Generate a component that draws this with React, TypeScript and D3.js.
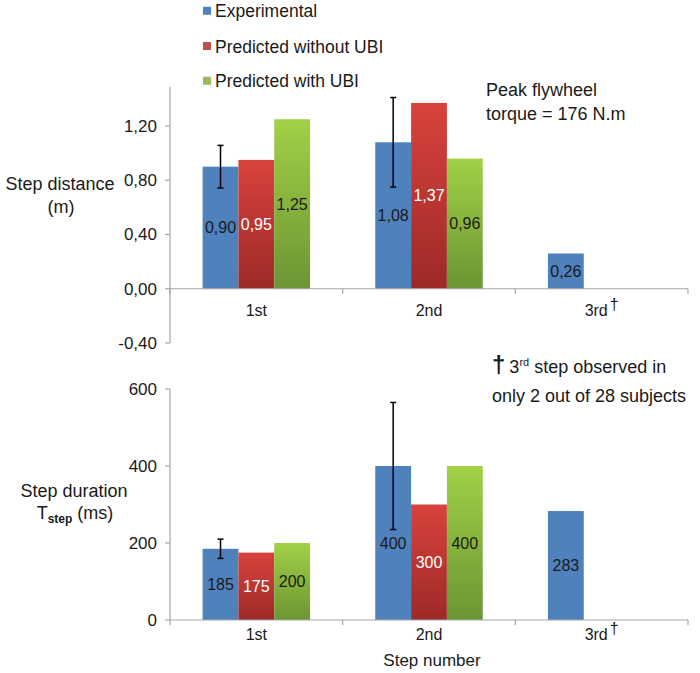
import React from "react";
import * as d3 from "d3";

const categories = ["1st", "2nd", "3rd"];
const seriesNames = ["Experimental", "Predicted without UBI", "Predicted with UBI"];

const distExperimental = [0.9, 1.08, 0.26];
const distNoUBI = [0.95, 1.37, null];
const distUBI = [1.25, 0.96, null];
const distErr = [0.157, 0.33, null];
const distTicks = [-0.4, 0, 0.4, 0.8, 1.2];

const durExperimental = [185, 400, 283];
const durNoUBI = [175, 300, null];
const durUBI = [200, 400, null];
const durErr = [25, 165, null];
const durTicks = [0, 200, 400, 600];

const FONT = "'Liberation Sans', Arial, Helvetica, sans-serif";
const AXIS = "#a6a6a6";
const TXT = "#1a1a1a";
const fills = ["#4f81bd", "url(#gRed)", "url(#gGreen)"];
const legendFills = ["#4f81bd", "#c0504d", "#9bbb59"];
const labelColors = [TXT, "#ffffff", TXT];

const x = d3.scaleBand<string>().domain(categories).range([170, 688]).padding(0);
const barW = x.bandwidth() * 0.2075;

type Panel = {
  y: d3.ScaleLinear<number, number>;
  series: (number | null)[][];
  err: (number | null)[];
  ticks: number[];
  fmt: (v: number) => string;
  axisTop: number;
  catY: number;
};

const commaFmt = (v: number) => d3.format(".2f")(v).replace(".", ",").replace("\u2212", "-");

const top: Panel = {
  y: d3.scaleLinear().domain([-0.4, 1.2]).range([343, 126]),
  series: [distExperimental, distNoUBI, distUBI],
  err: distErr,
  ticks: distTicks,
  fmt: commaFmt,
  axisTop: 87,
  catY: 316,
};

const bottom: Panel = {
  y: d3.scaleLinear().domain([0, 600]).range([620, 389]),
  series: [durExperimental, durNoUBI, durUBI],
  err: durErr,
  ticks: durTicks,
  fmt: (v: number) => d3.format("d")(v),
  axisTop: 389,
  catY: 640,
};

function PanelView({ p }: { p: Panel }) {
  const y0 = p.y(0);
  const x0 = x.range()[0];
  const x1 = x.range()[1];
  const boundaries = [...categories.map((c) => x(c)!), x1];
  return (
    <g>
      {/* y axis */}
      <line x1={x0} x2={x0} y1={p.axisTop} y2={p.y(p.ticks[0])} stroke={AXIS} strokeWidth={1.2} />
      {p.ticks.map((t) => (
        <g key={t}>
          <line x1={x0 - 5} x2={x0} y1={p.y(t)} y2={p.y(t)} stroke={AXIS} strokeWidth={1.2} />
          <text x={x0 - 13} y={p.y(t)} dy="0.35em" textAnchor="end" fontSize={17} fill={TXT}>
            {p.fmt(t)}
          </text>
        </g>
      ))}
      {/* bars */}
      {p.series.map((vals, si) =>
        vals.map((v, ci) => {
          if (v == null) return null;
          const cx = x(categories[ci])! + x.bandwidth() / 2;
          const bx = cx - 1.5 * barW + si * barW;
          const yt = p.y(v);
          return (
            <g key={`${si}-${ci}`}>
              <rect x={bx} y={yt} width={barW} height={y0 - yt} fill={fills[si]} />
              <text
                x={bx + barW / 2}
                y={(yt + y0) / 2}
                dy="0.35em"
                textAnchor="middle"
                fontSize={16}
                fill={labelColors[si]}
              >
                {p.fmt(v)}
              </text>
            </g>
          );
        })
      )}
      {/* error bars */}
      {p.err.map((e, ci) => {
        const v = p.series[0][ci];
        if (e == null || v == null) return null;
        const cx = x(categories[ci])! + x.bandwidth() / 2 - barW;
        return (
          <g key={`e${ci}`} stroke="#000" strokeWidth={1.5}>
            <line x1={cx} x2={cx} y1={p.y(v + e)} y2={p.y(v - e)} />
            <line x1={cx - 3} x2={cx + 3} y1={p.y(v + e)} y2={p.y(v + e)} />
            <line x1={cx - 3} x2={cx + 3} y1={p.y(v - e)} y2={p.y(v - e)} />
          </g>
        );
      })}
      {/* x axis */}
      <line x1={x0} x2={x1} y1={y0} y2={y0} stroke={AXIS} strokeWidth={1.2} />
      {boundaries.map((b, i) => (
        <line key={i} x1={b} x2={b} y1={y0} y2={y0 + 5} stroke={AXIS} strokeWidth={1.2} />
      ))}
      {categories.map((c) => (
        <text
          key={c}
          x={x(c)! + x.bandwidth() / 2}
          y={p.catY}
          textAnchor="middle"
          fontSize={16}
          fill={TXT}
        >
          {c}
          {c === "3rd" ? (
            <tspan dx={2} dy={-6} fontSize={16}>
              †
            </tspan>
          ) : null}
        </text>
      ))}
    </g>
  );
}

export default function App() {
  return (
    <svg
      width={700}
      height={673}
      style={{ position: "absolute", left: 0, top: 0, background: "#fff" }}
      fontFamily={FONT}
    >
      <defs>
        <linearGradient id="gRed" x1="0" y1="0" x2="0" y2="1">
          <stop offset="0" stopColor="#d9423d" />
          <stop offset="1" stopColor="#9c2a27" />
        </linearGradient>
        <linearGradient id="gGreen" x1="0" y1="0" x2="0" y2="1">
          <stop offset="0" stopColor="#a2d046" />
          <stop offset="1" stopColor="#6c9534" />
        </linearGradient>
      </defs>
      <rect width={700} height={673} fill="#fff" />

      <PanelView p={top} />
      <PanelView p={bottom} />

      {/* legend */}
      {seriesNames.map((n, i) => {
        const base = [17.3, 52.5, 87.3][i];
        return (
          <g key={n}>
            <rect x={203} y={base - 10.5} width={8} height={8} fill={legendFills[i]} />
            <text x={215} y={base} fontSize={17.5} fill={TXT}>
              {n}
            </text>
          </g>
        );
      })}

      {/* y titles */}
      <text x={60} y={184} dy="0.35em" textAnchor="middle" fontSize={18} fill={TXT}>
        Step distance
      </text>
      <text x={61} y={207} dy="0.35em" textAnchor="middle" fontSize={18} fill={TXT}>
        (m)
      </text>
      <text x={74} y={491} dy="0.35em" textAnchor="middle" fontSize={18} fill={TXT}>
        Step duration
      </text>
      <text x={75} y={519} textAnchor="middle" fontSize={18} fill={TXT}>
        T<tspan fontSize={12} dy={4} fontWeight="bold">step</tspan>
        <tspan dy={-4}> (ms)</tspan>
      </text>

      {/* annotation */}
      <text x={486} y={96} fontSize={18} fill={TXT}>
        Peak flywheel
      </text>
      <text x={486} y={119.5} fontSize={18} fill={TXT}>
        torque = 176 N.m
      </text>

      {/* footnote */}
      <text x={492} y={373} fontSize={18} fill={TXT}>
        <tspan fontSize={24} fontWeight="bold">†</tspan>
        <tspan dx={4}>3</tspan>
        <tspan fontSize={11} dy={-7}>rd</tspan>
        <tspan dy={7}> step observed in</tspan>
      </text>
      <text x={492} y={402} fontSize={18} fill={TXT}>
        only 2 out of 28 subjects
      </text>

      {/* x title */}
      <text x={432} y={666} textAnchor="middle" fontSize={17} fill={TXT}>
        Step number
      </text>
    </svg>
  );
}
